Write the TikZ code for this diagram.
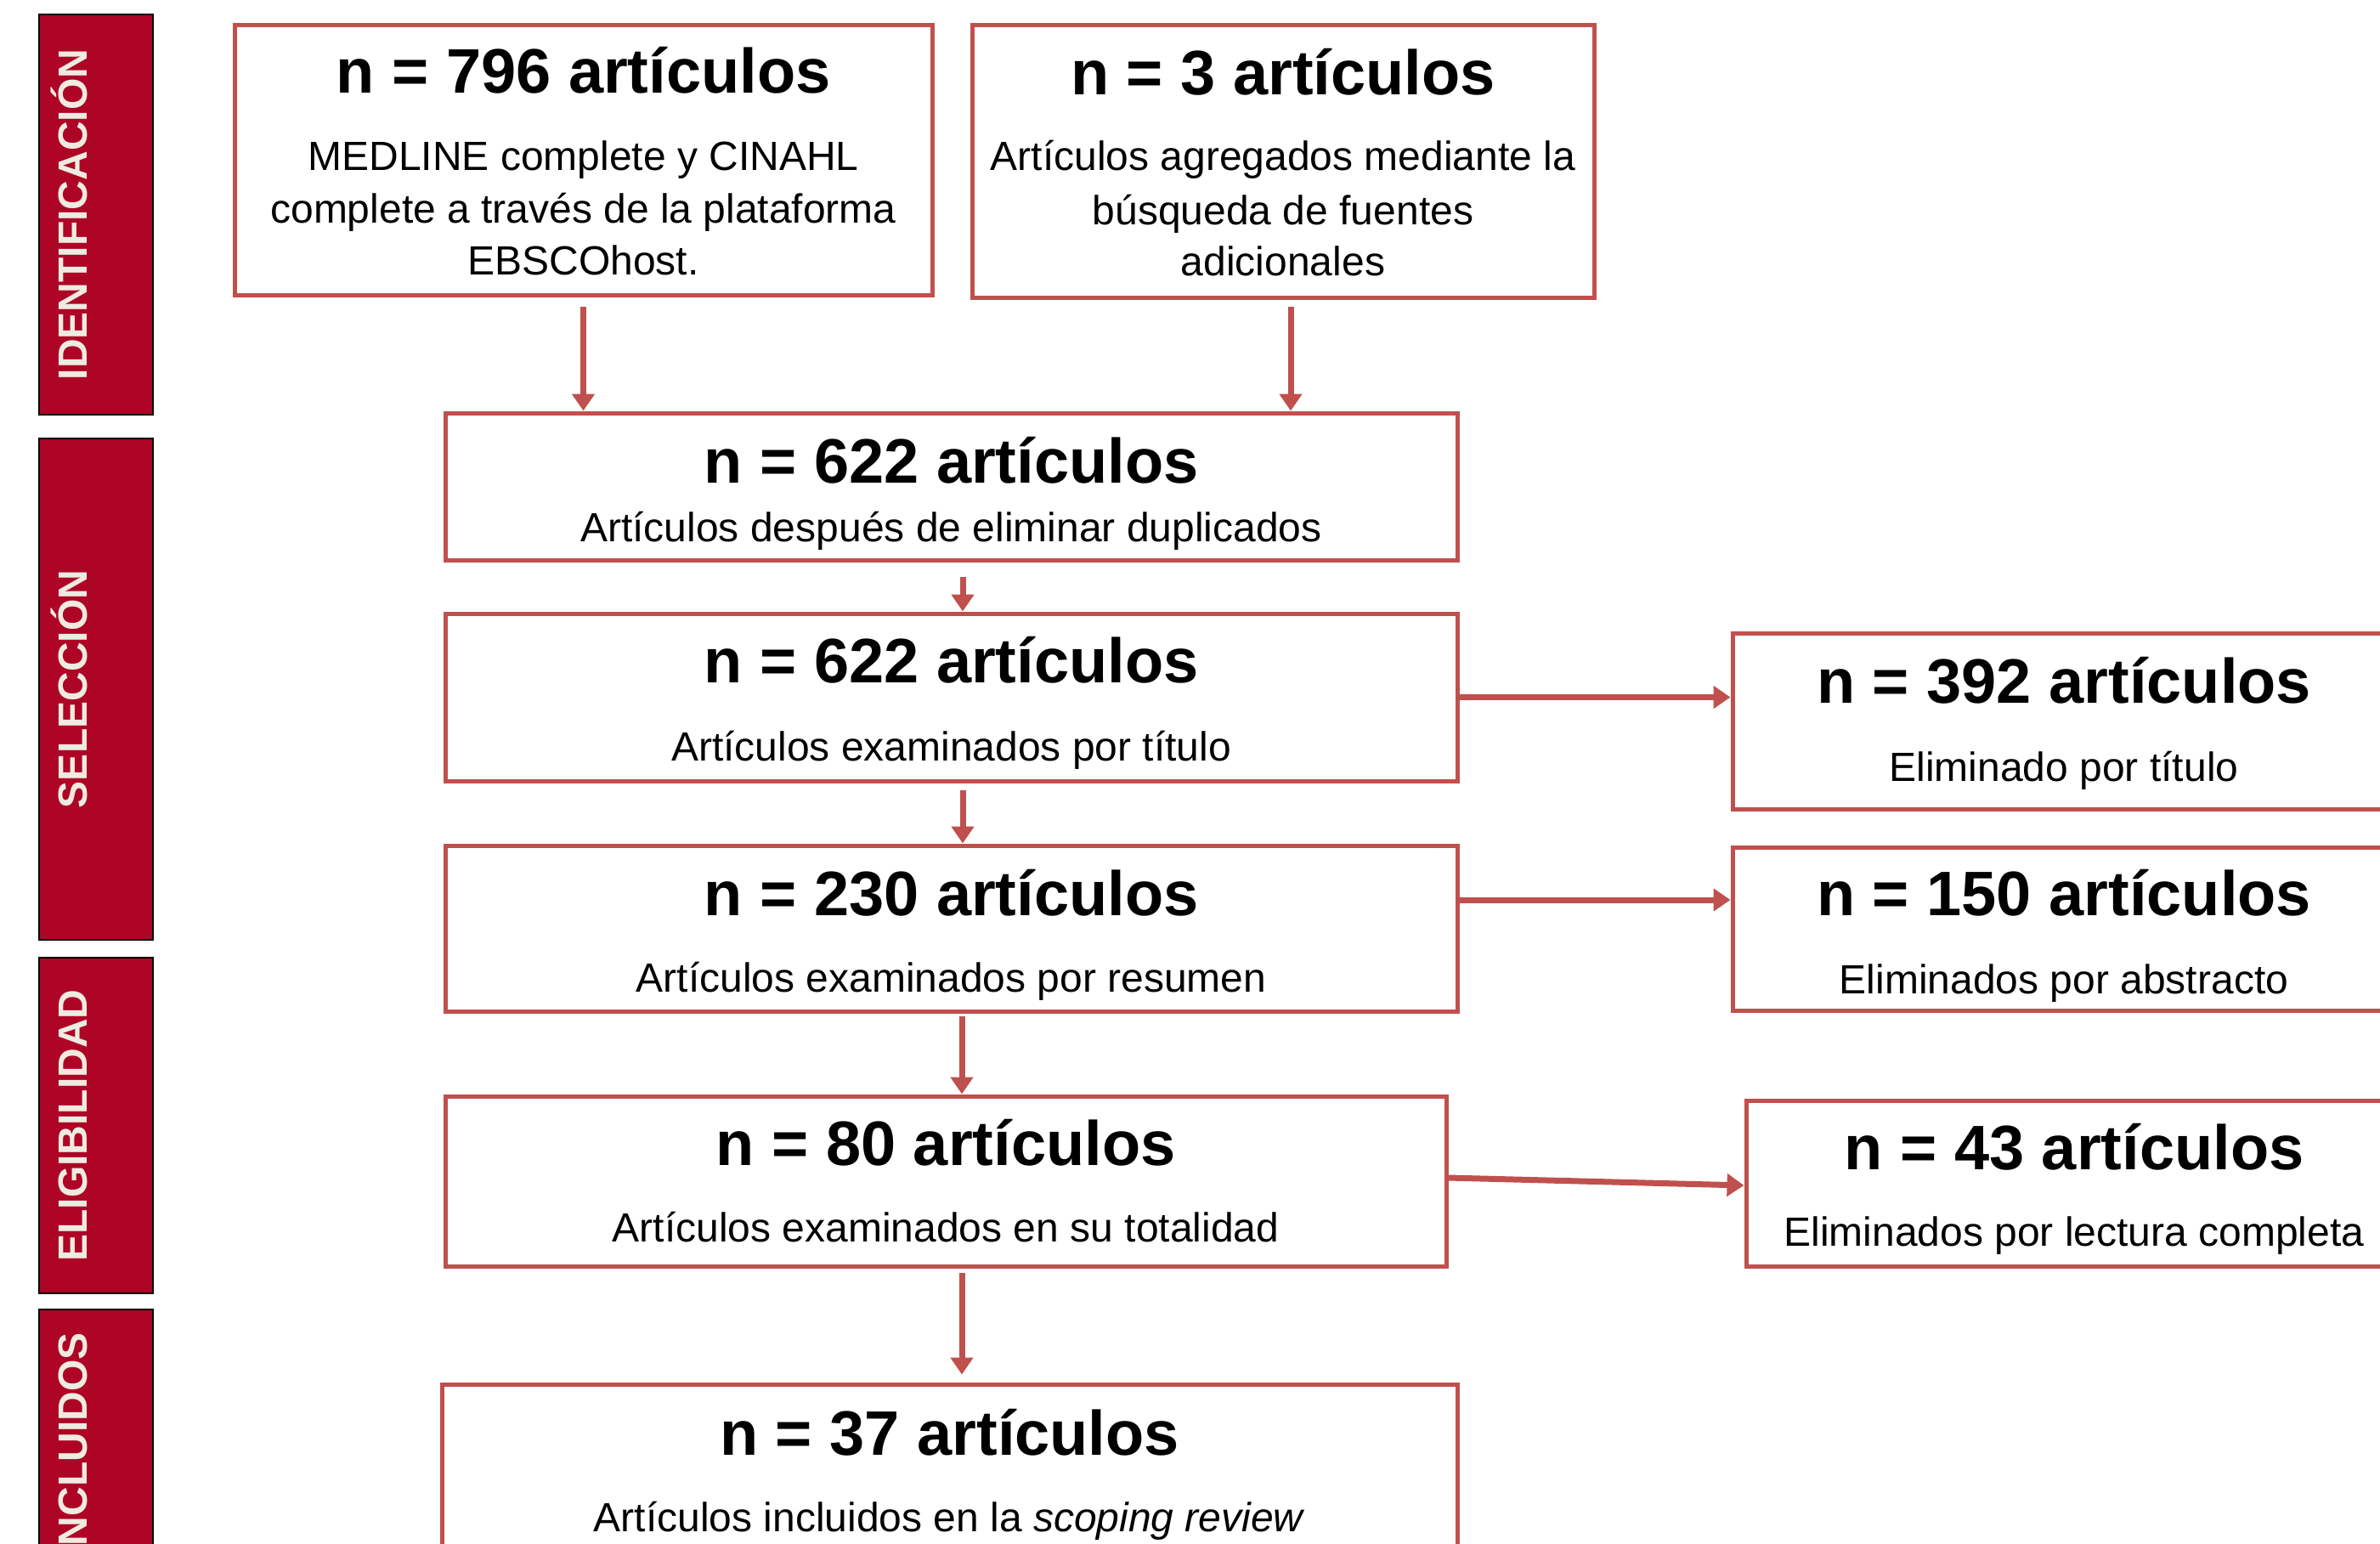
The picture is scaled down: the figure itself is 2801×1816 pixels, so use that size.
\documentclass[tikz,border=0pt]{standalone}
\usepackage{fontspec}
\setmainfont{Liberation Sans}
\usetikzlibrary{arrows.meta}
\definecolor{boxred}{HTML}{C0504D}
\definecolor{barred}{HTML}{AE0526}
\definecolor{cream}{HTML}{EEEBE0}
\tikzset{
  box/.style={draw=boxred, line width=2.5pt, fill=white, rectangle, inner sep=0pt},
  bar/.style={draw=black, line width=1pt, fill=barred, rectangle, inner sep=0pt, minimum width=67pt},
  bartext/.style={text=cream, font=\fontsize{24}{28}\selectfont\bfseries, rotate=90, inner sep=0pt},
  ttl/.style={font=\fontsize{37}{44}\selectfont\bfseries, inner sep=0pt, anchor=base},
  bdy/.style={font=\fontsize{24}{30}\selectfont, inner sep=0pt, anchor=base},
  arr/.style={draw=boxred, line width=3.5pt, -{Triangle[length=10pt,width=13pt]}}
}
\begin{document}
\begin{tikzpicture}[x=0.5pt,y=-0.5pt]
\useasboundingbox (0,0) rectangle (2801,1816);
\clip (0,0) rectangle (2801,1816);
% side bars
\node[bar, minimum height=235.5pt] (bar1) at (113,252.5) {};
\node[bar, minimum height=295pt] (bar2) at (113,811) {};
\node[bar, minimum height=197.5pt] (bar3) at (113,1324.5) {};
\node[bar, minimum height=179.5pt] (bar4) at (113,1720.5) {};
\node[bartext, anchor=base] (l1) at (102,252.5) {IDENTIFICACIÓN};
\node[bartext, anchor=base] (l2) at (102,811) {SELECCIÓN};
\node[bartext, anchor=base] (l3) at (102,1324.5) {ELIGIBILIDAD};
\node[bartext, anchor=base east] (l4) at (102,1568) {INCLUIDOS};
% boxes
\node[box, minimum width=410.5pt, minimum height=159pt] (b1) at (686.5,188) {};
\node[box, minimum width=366pt, minimum height=160.5pt] (b2) at (1510,189.5) {};
\node[box, minimum width=595.5pt, minimum height=86.5pt] (b3) at (1119.5,572.5) {};
\node[box, minimum width=595.5pt, minimum height=98.5pt] (b4) at (1119.5,820.5) {};
\node[box, minimum width=595.5pt, minimum height=97.5pt] (b5) at (1119.5,1092.5) {};
\node[box, minimum width=589pt, minimum height=100pt] (b6) at (1113,1390) {};
\node[box, minimum width=597.5pt, minimum height=135.5pt] (b7) at (1117.5,1764.5) {};
\node[box, minimum width=390pt, minimum height=103.5pt] (r1) at (2429,848.5) {};
\node[box, minimum width=390pt, minimum height=96pt] (r2) at (2429,1093) {};
\node[box, minimum width=386pt, minimum height=97.5pt] (r3) at (2441,1392.5) {};
% vertical arrows
\coordinate (v1s) at ([yshift=-5.5pt]b1.south);
\draw[arr] (v1s) -- (v1s |- b3.north);
\coordinate (v2s) at ([xshift=4.5pt,yshift=-4pt]b2.south);
\draw[arr] (v2s) -- (v2s |- b3.north);
\coordinate (v3s) at ([xshift=6.75pt,yshift=-8.5pt]b3.south);
\draw[arr] (v3s) -- (v3s |- b4.north);
\coordinate (v4s) at ([xshift=6.75pt,yshift=-4pt]b4.south);
\draw[arr] (v4s) -- (v4s |- b5.north);
\coordinate (v5s) at ([xshift=6.25pt,yshift=-1.5pt]b5.south);
\draw[arr] (v5s) -- (v5s |- b6.north);
\coordinate (v6s) at ([xshift=9.5pt,yshift=-2.5pt]b6.south);
\coordinate (v6e) at ([yshift=4.5pt]v6s |- b7.north);
\draw[arr] (v6s) -- (v6e);
% horizontal arrows
\draw[arr] (b4.east) -- (b4.east -| r1.west);
\coordinate (h2s) at ([yshift=16.75pt]b5.east);
\draw[arr] (h2s) -- (h2s -| r2.west);
\draw[arr] ([yshift=2pt]b6.east) -- ([yshift=-1.25pt]r3.west);
% texts
\node[ttl] (t1) at (686.5,109) {n = 796 artículos};
\node[bdy] (t1a) at (686.5,200) {MEDLINE complete y CINAHL};
\node[bdy] (t1b) at (686.5,262) {complete a través de la plataforma};
\node[bdy] (t1c) at (686.5,323) {EBSCOhost.};
\node[ttl] (t2) at (1510,111) {n = 3 artículos};
\node[bdy] (t2a) at (1510,200) {Artículos agregados mediante la};
\node[bdy] (t2b) at (1510,264) {búsqueda de fuentes};
\node[bdy] (t2c) at (1510,324) {adicionales};
\node[ttl] (t3) at (1119.5,568) {n = 622 artículos};
\node[bdy] (t3a) at (1119.5,637) {Artículos después de eliminar duplicados};
\node[ttl] (t4) at (1119.5,803) {n = 622 artículos};
\node[bdy] (t4a) at (1119.5,895) {Artículos examinados por título};
\node[ttl] (t5) at (1119.5,1077) {n = 230 artículos};
\node[bdy] (t5a) at (1119.5,1167) {Artículos examinados por resumen};
\node[ttl] (t6) at (1113,1371) {n = 80 artículos};
\node[bdy] (t6a) at (1113,1461) {Artículos examinados en su totalidad};
\node[ttl] (t7) at (1117.5,1712) {n = 37 artículos};
\node[bdy] (t7a) at (1117.5,1802) {Artículos incluidos en la \textit{scoping review}};
\node[ttl] (tr1) at (2429,827) {n = 392 artículos};
\node[bdy] (tr1a) at (2429,919) {Eliminado por título};
\node[ttl] (tr2) at (2429,1077) {n = 150 artículos};
\node[bdy] (tr2a) at (2429,1169) {Eliminados por abstracto};
\node[ttl] (tr3) at (2441,1376) {n = 43 artículos};
\node[bdy] (tr3a) at (2441,1466) {Eliminados por lectura completa};
\end{tikzpicture}
\end{document}
